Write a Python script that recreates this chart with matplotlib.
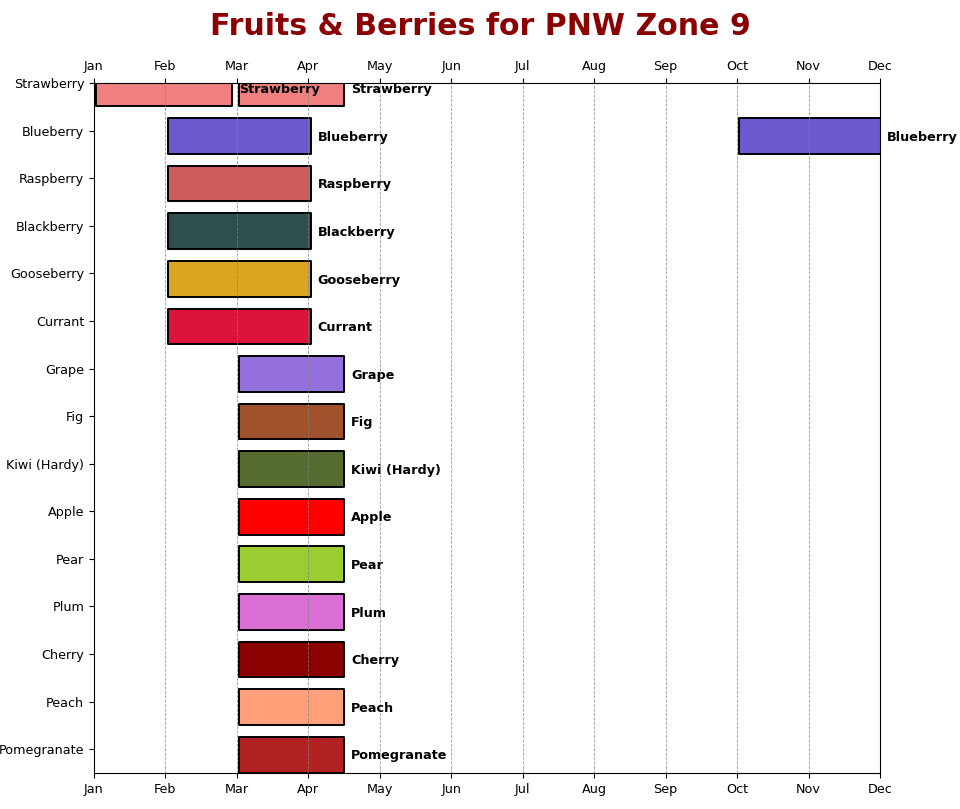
import matplotlib
matplotlib.use("Agg")
import matplotlib.pyplot as plt

### data (x in months, Jan = 0)
fruits = ["Strawberry", "Blueberry", "Raspberry", "Blackberry", "Gooseberry",
          "Currant", "Grape", "Fig", "Kiwi (Hardy)", "Apple", "Pear", "Plum",
          "Cherry", "Peach", "Pomegranate"]
# one list of (start, end) windows per fruit
windows = [
    [(0.03, 1.93), (2.03, 3.5)],
    [(1.03, 3.03), (9.03, 11.03)],
    [(1.03, 3.03)],
    [(1.03, 3.03)],
    [(1.03, 3.03)],
    [(1.03, 3.03)],
    [(2.03, 3.5)],
    [(2.03, 3.5)],
    [(2.03, 3.5)],
    [(2.03, 3.5)],
    [(2.03, 3.5)],
    [(2.03, 3.5)],
    [(2.03, 3.5)],
    [(2.03, 3.5)],
    [(2.03, 3.5)],
]
colors = ["lightcoral", "slateblue", "indianred", "darkslategray", "goldenrod",
          "crimson", "mediumpurple", "sienna", "darkolivegreen", "red",
          "yellowgreen", "orchid", "darkred", "lightsalmon", "firebrick"]
months = ["Jan", "Feb", "Mar", "Apr", "May", "Jun", "Jul", "Aug", "Sep",
          "Oct", "Nov", "Dec"]

fig = plt.figure(figsize=(9.6, 8.09), dpi=100)
ax = fig.add_axes([94 / 960, 1 - 773 / 809, 786 / 960, 690 / 809])

for i, (name, wins, c) in enumerate(zip(fruits, windows, colors)):
    for start, end in wins:
        ax.broken_barh([(start, end - start)], (i - 0.26, 0.75),
                       facecolors=c, edgecolor="black", linewidth=1.4)
        ax.text(min(end, 11) + 0.1, i + 0.14, name, va="center",
                fontsize=9.2, fontweight="bold")

ax.set_xlim(0, 11)
ax.set_ylim(len(fruits) - 0.5, 0)
ax.set_xticks(range(len(months)))
ax.set_xticklabels(months)
ax.set_yticks(range(len(fruits)))
ax.set_yticklabels(fruits)
ax.tick_params(axis="x", top=True, labeltop=True)
ax.tick_params(labelsize=9.2)
ax.grid(axis="x", linestyle="--", color="gray", linewidth=0.6, alpha=0.8)

fig.suptitle("Fruits & Berries for PNW Zone 9", fontsize=21.6,
             fontweight="bold", color="darkred", y=0.985)

fig.savefig("out.png")
